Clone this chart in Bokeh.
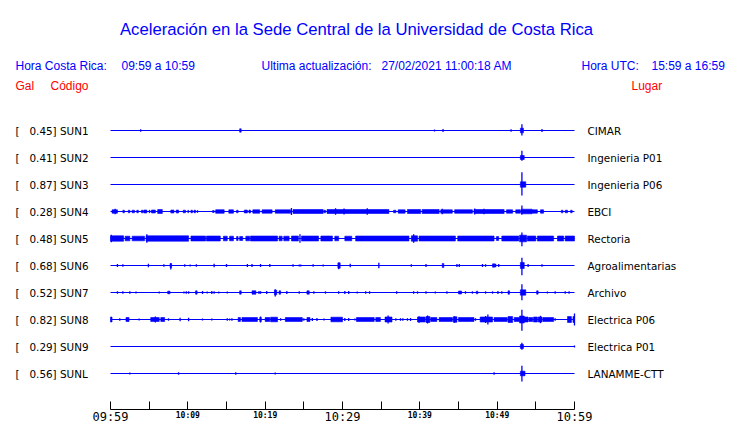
from bokeh.plotting import figure
from bokeh.models import Range1d, FixedTicker, ColumnDataSource, LabelSet, Label, LinearAxis
from bokeh.core.properties import value
from bokeh.embed import file_html
from bokeh.resources import INLINE

# ---------------- data ----------------
STATIONS = ["SUN1", "SUN2", "SUN3", "SUN4", "SUN5", "SUN6", "SUN7", "SUN8", "SUN9", "SUNL"]
GAINS = [0.45, 0.41, 0.87, 0.28, 0.48, 0.68, 0.52, 0.82, 0.29, 0.56]
PLACES = ["CIMAR", "Ingenieria P01", "Ingenieria P06", "EBCI", "Rectoria",
          "Agroalimentarias", "Archivo", "Electrica P06", "Electrica P01", "LANAMME-CTT"]

WINDOW_START, WINDOW_END = 0, 60          # minutes after 09:59
TICKS = list(range(0, 61, 5))
BIG_TICKS = [0, 30, 60]
BIG_LABELS = ["09:59", "10:29", "10:59"]
SMALL_TICKS = [10, 20, 40, 50]
SMALL_LABELS = ["10:09", "10:19", "10:39", "10:49"]

TITLE = "Aceleración en la Sede Central de la Universidad de Costa Rica"
HORA_CR = ["Hora Costa Rica:", "09:59 a 10:59"]
ACTUALIZACION = ["Ultima actualización:", "27/02/2021 11:00:18 AM"]
HORA_UTC = ["Hora UTC:", "15:59 a 16:59"]
COLUMNAS = ["Gal", "Código", "Lugar"]

# spikes: (minute, amplitude up, amplitude down); bursts: (start minute, end minute, half amplitude)
SUN1_SPIKES = [(3.9, 1.2, 1.2), (41.9, 1.0, 1.0), (43.0, 1.5, 1.5), (51.8, 1.3, 1.3), (53.2, 6.3, 5.0), (55.8, 1.5, 1.5)]
SUN1_BURSTS = [(16.7, 16.9, 1.7), (53.0, 53.4, 2.3)]
SUN2_SPIKES = [(53.2, 6.7, 3.3)]
SUN2_BURSTS = [(53.0, 53.5, 2.0)]
SUN3_SPIKES = [(53.2, 12.3, 11.0)]
SUN3_BURSTS = [(53.0, 53.7, 2.7)]
SUN4_SPIKES = [(0.6, 2.7, 2.7), (23.4, 3.5, 3.5), (29.1, 3.2, 3.2), (30.2, 3.0, 3.0), (33.2, 3.3, 3.3),
               (42.9, 2.7, 2.7), (47.1, 3.0, 3.0), (48.3, 2.7, 2.7), (53.2, 6.0, 3.3)]
SUN4_BURSTS = [(0.2, 0.9, 1.7), (1.6, 1.8, 1.3), (2.3, 2.5, 1.3), (2.8, 3.1, 1.3), (3.4, 3.6, 1.3), (4.0, 4.2, 1.3),
               (4.3, 4.7, 1.5), (5.0, 5.1, 1.3), (5.3, 5.8, 1.5), (6.1, 6.7, 2.0), (7.8, 8.2, 1.5), (8.5, 8.8, 1.5),
               (9.4, 9.7, 1.3), (10.0, 10.1, 1.3), (10.4, 10.6, 1.3), (10.8, 11.0, 1.3), (11.2, 11.3, 1.0),
               (13.2, 13.4, 1.0), (13.6, 14.7, 1.8), (15.3, 15.9, 1.7), (16.3, 16.5, 1.3), (17.3, 17.7, 1.5),
               (17.9, 18.1, 1.5), (18.4, 19.3, 1.7), (19.6, 20.9, 1.7), (21.3, 23.3, 1.7), (23.6, 27.5, 2.0),
               (27.6, 27.8, 1.3), (28.0, 36.0, 2.0), (36.6, 36.9, 1.3), (37.2, 38.1, 1.7), (38.4, 40.1, 2.0),
               (40.3, 42.5, 2.0), (42.7, 44.2, 1.7), (44.5, 46.8, 1.8), (47.0, 50.9, 2.0), (51.2, 52.0, 1.7),
               (52.4, 53.0, 1.7), (53.1, 54.5, 2.3), (54.5, 55.2, 1.7), (55.6, 56.0, 1.7), (58.3, 58.5, 1.3),
               (58.8, 59.1, 1.3), (59.5, 59.7, 1.3)]
SUN5_SPIKES = [(0.1, 3.7, 3.7), (4.7, 4.3, 4.3), (24.5, 4.3, 4.3), (39.2, 4.3, 4.3), (53.2, 6.0, 7.7)]
SUN5_BURSTS = [(0.0, 1.7, 2.7), (1.9, 2.5, 2.3), (2.8, 4.4, 2.3), (4.6, 10.1, 2.7), (10.4, 12.3, 2.5),
               (12.4, 14.2, 2.5), (14.6, 15.1, 2.3), (15.4, 15.9, 2.3), (16.3, 16.5, 2.0), (16.7, 17.1, 2.0),
               (17.5, 18.0, 2.3), (18.1, 21.6, 2.5), (21.8, 22.2, 2.3), (22.4, 23.1, 2.3), (23.4, 24.3, 2.5),
               (24.7, 26.9, 2.5), (27.2, 28.7, 2.5), (29.0, 29.5, 2.3), (30.3, 31.2, 2.3), (31.7, 38.6, 2.5),
               (38.9, 39.7, 2.7), (39.9, 44.6, 2.5), (44.9, 49.6, 2.5), (49.9, 50.2, 2.0), (50.6, 52.8, 2.5),
               (52.9, 53.8, 3.3), (53.9, 55.0, 2.5), (55.2, 57.3, 2.5), (57.8, 58.6, 2.5), (58.8, 60.0, 2.5)]
SUN6_SPIKES = [(0.9, 1.5, 1.5), (1.6, 1.3, 1.3), (4.9, 1.7, 1.7), (6.9, 1.3, 1.3), (7.8, 2.0, 4.0), (9.6, 1.2, 1.2),
               (10.3, 1.0, 1.0), (11.1, 1.3, 1.3), (13.4, 1.7, 1.7), (15.0, 1.5, 1.5), (17.7, 1.5, 1.5),
               (18.3, 1.5, 1.5), (19.4, 1.5, 1.5), (20.6, 1.5, 1.5), (23.6, 1.3, 1.3), (24.4, 1.0, 1.0),
               (24.6, 1.0, 1.0), (26.2, 1.3, 1.3), (27.5, 1.0, 1.0), (29.5, 2.7, 3.7), (31.0, 1.7, 1.7),
               (34.7, 2.7, 2.7), (38.9, 1.3, 1.3), (40.8, 1.5, 1.5), (44.8, 1.5, 1.5), (45.1, 1.5, 1.5),
               (48.1, 1.5, 1.5), (48.5, 1.3, 1.3), (49.8, 1.7, 1.7), (50.2, 1.5, 1.5), (53.2, 7.7, 9.7),
               (54.0, 1.5, 1.5), (55.8, 1.3, 1.3)]
SUN6_BURSTS = [(7.7, 7.9, 2.0), (29.4, 29.7, 2.7), (42.9, 43.1, 2.0), (49.4, 49.7, 1.7), (53.0, 53.5, 3.0)]
SUN7_SPIKES = [(0.9, 1.3, 1.3), (1.6, 1.3, 1.3), (2.5, 1.3, 1.3), (3.3, 1.0, 1.0), (6.3, 1.0, 1.0), (7.5, 1.3, 1.3),
               (9.5, 1.0, 1.0), (9.8, 1.2, 1.2), (10.1, 1.2, 1.2), (11.9, 1.5, 1.5), (12.5, 1.0, 1.0),
               (13.1, 1.5, 1.5), (13.4, 1.2, 1.2), (14.0, 1.0, 1.0), (15.1, 1.0, 1.0), (19.2, 1.5, 1.5),
               (19.4, 1.3, 1.3), (20.2, 1.5, 1.5), (21.3, 3.3, 4.0), (22.8, 1.5, 1.5), (24.4, 1.3, 1.3),
               (26.3, 1.3, 1.3), (27.8, 1.2, 1.2), (29.5, 1.3, 1.3), (30.3, 1.5, 1.5), (30.8, 1.5, 1.5),
               (31.9, 1.0, 1.0), (33.0, 1.2, 1.2), (33.5, 1.3, 1.3), (37.0, 1.3, 1.3), (39.2, 1.3, 1.3),
               (39.7, 1.2, 1.2), (40.8, 1.3, 1.3), (42.0, 1.0, 1.0), (43.5, 1.3, 1.3), (45.9, 1.3, 1.3),
               (46.8, 1.2, 1.2), (48.5, 1.2, 1.2), (49.4, 1.2, 1.2), (50.1, 1.5, 1.5), (50.6, 1.3, 1.3),
               (53.2, 8.3, 7.7), (56.5, 1.0, 1.0), (57.5, 1.3, 1.3), (58.8, 1.2, 1.2), (59.3, 1.2, 1.2)]
SUN7_BURSTS = [(7.4, 7.7, 1.3), (11.0, 11.2, 1.7), (16.7, 16.9, 1.7), (18.3, 18.8, 1.7), (21.2, 21.5, 2.3),
               (21.8, 22.0, 1.7), (25.4, 25.7, 1.7), (45.0, 45.4, 1.5), (47.3, 47.5, 1.3), (51.4, 51.6, 1.7),
               (53.0, 53.7, 2.7), (55.1, 55.3, 1.7)]
SUN8_SPIKES = [(1.2, 1.3, 1.3), (3.7, 1.0, 1.0), (5.8, 3.0, 3.0), (7.5, 1.3, 1.3), (9.0, 1.7, 1.7), (10.1, 1.7, 1.7),
               (11.9, 1.0, 1.0), (13.1, 1.0, 1.0), (15.1, 1.3, 1.3), (15.4, 1.0, 1.0), (15.7, 1.3, 1.3),
               (19.4, 3.0, 3.0), (22.0, 1.3, 1.3), (25.0, 1.3, 1.3), (26.1, 1.5, 1.5), (26.7, 1.5, 1.5),
               (27.6, 1.0, 1.0), (30.3, 1.5, 1.5), (30.8, 1.5, 1.5), (31.6, 1.0, 1.0), (35.9, 4.0, 4.0),
               (36.9, 1.3, 1.3), (37.5, 1.3, 1.3), (37.8, 1.3, 1.3), (38.4, 1.3, 1.3), (38.8, 1.5, 1.5),
               (39.9, 3.3, 3.3), (41.0, 4.0, 4.0), (44.5, 3.3, 3.3), (47.2, 1.3, 1.3), (48.5, 3.5, 3.5),
               (48.8, 5.0, 5.0), (53.2, 9.7, 11.3), (55.6, 3.7, 3.7), (57.5, 1.3, 1.3), (60.0, 6.0, 6.0)]
SUN8_BURSTS = [(0.0, 0.2, 2.5), (2.0, 2.4, 2.0), (5.2, 6.3, 2.0), (6.5, 7.0, 2.0), (16.5, 16.8, 2.0), (17.0, 19.0, 2.0),
               (19.3, 19.5, 2.0), (20.0, 20.6, 2.0), (20.7, 21.6, 2.3), (22.6, 24.8, 2.0), (25.4, 25.8, 2.0),
               (28.5, 30.0, 2.3), (31.8, 34.1, 2.0), (34.3, 34.9, 2.0), (35.5, 36.4, 2.5), (39.7, 40.7, 2.5),
               (40.8, 41.3, 3.0), (41.4, 42.2, 2.0), (42.5, 44.2, 2.0), (44.3, 44.8, 2.7), (45.0, 47.0, 2.0),
               (47.8, 49.4, 2.5), (49.6, 51.3, 2.0), (51.4, 52.0, 3.0), (52.2, 52.9, 2.0), (52.9, 53.5, 3.5),
               (53.4, 54.0, 2.5), (54.1, 54.6, 2.0), (54.7, 55.2, 2.5), (55.3, 55.8, 2.5), (55.9, 57.3, 2.0),
               (59.1, 59.6, 3.0), (59.8, 60.0, 3.0)]
SUN9_SPIKES = [(53.2, 3.7, 3.3), (60.0, 1.0, 1.0)]
SUN9_BURSTS = [(53.0, 53.4, 2.0)]
SUNL_SPIKES = [(2.5, 1.0, 1.0), (8.8, 1.3, 1.3), (16.2, 1.3, 1.3), (21.3, 1.0, 1.0), (49.6, 1.3, 1.3), (53.2, 7.7, 8.0)]
SUNL_BURSTS = [(53.0, 53.6, 2.3)]

SPIKES = [SUN1_SPIKES, SUN2_SPIKES, SUN3_SPIKES, SUN4_SPIKES, SUN5_SPIKES,
          SUN6_SPIKES, SUN7_SPIKES, SUN8_SPIKES, SUN9_SPIKES, SUNL_SPIKES]
BURSTS = [SUN1_BURSTS, SUN2_BURSTS, SUN3_BURSTS, SUN4_BURSTS, SUN5_BURSTS,
          SUN6_BURSTS, SUN7_BURSTS, SUN8_BURSTS, SUN9_BURSTS, SUNL_BURSTS]

# ---------------- layout / style ----------------
W, H = 740, 423
ROW_PX = 27.0            # vertical distance between traces, px (amplitudes are in px too)
FIRST_ROW_PX = 130
AXIS_PX = 409
X_LEFT_PX, X_RIGHT_PX = 110, 574
BLUE, RED = "#0000ff", "#ff0000"
SANS = "Liberation Sans"
NBSP = "\u00a0"

ppm = (X_RIGHT_PX - X_LEFT_PX) / (WINDOW_END - WINDOW_START)
x_lo = WINDOW_START - X_LEFT_PX / ppm
x_hi = WINDOW_START + (W - X_LEFT_PX) / ppm
y_top = FIRST_ROW_PX / ROW_PX
y_bot = -(H - FIRST_ROW_PX) / ROW_PX
y_axis = -(AXIS_PX - FIRST_ROW_PX) / ROW_PX

p = figure(width=W, height=H, x_range=Range1d(x_lo, x_hi), y_range=Range1d(y_bot, y_top),
           output_backend="svg", toolbar_location=None, y_axis_location=None,
           min_border=0, min_border_left=0, min_border_right=0, min_border_top=0, min_border_bottom=0)
p.extra_x_ranges = {"px": Range1d(0, W)}
p.extra_y_ranges = {"px": Range1d(H, 0)}
p.xgrid.visible = False
p.ygrid.visible = False
p.outline_line_color = None
p.background_fill_color = "white"
p.border_fill_color = "white"

# time axis: ticks + large labels (drawn inside the frame at a fixed place)
ax = p.xaxis[0]
ax.ticker = FixedTicker(ticks=TICKS, minor_ticks=[])
ax.fixed_location = y_axis
ax.bounds = (WINDOW_START, WINDOW_END)
ax.major_tick_in = 8
ax.major_tick_out = 0
ax.major_label_overrides = {t: "" for t in TICKS}
ax.major_label_overrides.update({t: s for t, s in zip(BIG_TICKS, BIG_LABELS)})
ax.major_label_text_font = "DejaVu Sans Mono"
ax.major_label_text_font_size = "12px"
ax.major_label_text_color = "black"
ax.major_label_standoff = 0
ax.axis_line_color = "black"
ax.major_tick_line_color = "black"
ax.minor_tick_line_color = None

# second axis at the same place: small labels only
ax2 = LinearAxis(ticker=FixedTicker(ticks=SMALL_TICKS, minor_ticks=[]), fixed_location=y_axis,
                 bounds=(WINDOW_START, WINDOW_END),
                 major_label_overrides={t: s for t, s in zip(SMALL_TICKS, SMALL_LABELS)},
                 major_label_text_font="DejaVu Sans Mono", major_label_text_font_size="8px",
                 major_label_text_font_style="bold", major_label_text_color="black",
                 major_label_standoff=1, axis_line_color=None, major_tick_line_color=None,
                 minor_tick_line_color=None, major_tick_in=0, major_tick_out=0)
p.add_layout(ax2, "below")

# ---------------- traces ----------------
rows = [-i for i in range(len(STATIONS))]
p.segment(x0=[WINDOW_START] * len(rows), x1=[WINDOW_END] * len(rows), y0=rows, y1=rows,
          line_color=BLUE, line_width=1.1)

bl, br, bt, bb = [], [], [], []
for r, bursts in zip(rows, BURSTS):
    for t0, t1, a in bursts:
        bl.append(t0); br.append(t1)
        bt.append(r + a / ROW_PX); bb.append(r - a / ROW_PX)
p.quad(left=bl, right=br, top=bt, bottom=bb, fill_color=BLUE, line_color=BLUE, line_width=0.6)

sx, sy0, sy1 = [], [], []
for r, spikes in zip(rows, SPIKES):
    for t, up, dn in spikes:
        sx.append(t); sy0.append(r - dn / ROW_PX); sy1.append(r + up / ROW_PX)
p.segment(x0=sx, x1=sx, y0=sy0, y1=sy1, line_color=BLUE, line_width=1.3)

# ---------------- station labels ----------------
left_text = [("[%7.2f] %s" % (g, s)).replace(" ", NBSP) for g, s in zip(GAINS, STATIONS)]
left_src = ColumnDataSource(dict(x=[15] * len(rows), y=rows, text=left_text))
p.add_layout(LabelSet(x="x", y="y", text="text", source=left_src, x_range_name="px",
                      text_font=value("DejaVu Sans"), text_font_size="10.4px", text_color="black",
                      text_baseline="middle", text_align="left"))
right_src = ColumnDataSource(dict(x=[587] * len(rows), y=rows, text=PLACES))
p.add_layout(LabelSet(x="x", y="y", text="text", source=right_src, x_range_name="px",
                      text_font=value("DejaVu Sans"), text_font_size="10.4px", text_color="black",
                      text_baseline="middle", text_align="left"))

# ---------------- header ----------------
def lab(x, y, text, color, size="12px", align="left"):
    p.add_layout(Label(x=x, y=y, text=text, x_range_name="px", y_range_name="px",
                       text_font=SANS, text_font_size=size, text_color=color,
                       text_baseline="alphabetic", text_align=align))

lab(356, 29, TITLE, BLUE, size="16.7px", align="center")
lab(15, 65, HORA_CR[0], BLUE)
lab(121, 65, HORA_CR[1], BLUE)
lab(261, 65, ACTUALIZACION[0], BLUE)
lab(381, 65, ACTUALIZACION[1], BLUE)
lab(581, 65, HORA_UTC[0], BLUE)
lab(651, 65, HORA_UTC[1], BLUE)
lab(15, 85, COLUMNAS[0], RED)
lab(50, 85, COLUMNAS[1], RED)
lab(631, 85, COLUMNAS[2], RED)

open("out.html", "w").write(file_html(p, INLINE))
